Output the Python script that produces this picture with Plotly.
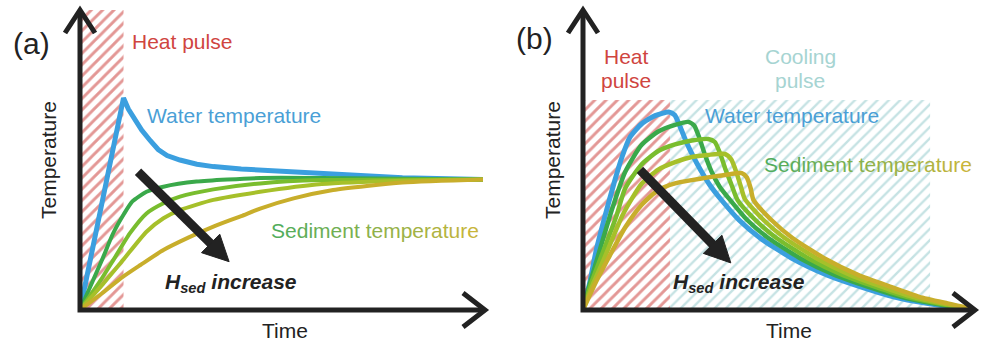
import math
import plotly.graph_objects as go

W, H = 981, 342

# ---------------- data (schematic values) ----------------
# Panel (a): time 0..10, temperature 0..10
heat_a = [0.0, 1.08]          # heat-pulse interval
heat_a_top = 10.0

water_a_t = [0, 1.08, 1.2, 1.35, 1.53, 1.74, 1.94, 2.16, 2.48, 2.9, 3.31, 4.0, 4.8, 5.66, 6.5, 8.0, 10.0]
water_a_T = [0, 7.07, 6.7, 6.35, 6.0, 5.65, 5.35, 5.15, 5.0, 4.86, 4.78, 4.7, 4.64, 4.56, 4.49, 4.41, 4.35]

sed_a1_t = [0, 0.54, 0.82, 1.09, 1.3, 1.65, 2.07, 2.89, 4.47, 6.0, 10.0]
sed_a1_T = [0, 1.65, 2.55, 3.2, 3.62, 3.94, 4.11, 4.28, 4.4, 4.4, 4.35]
sed_a2_t = [0, 0.54, 0.83, 1.24, 1.65, 2.07, 2.48, 3.31, 4.47, 6.0, 10.0]
sed_a2_T = [0, 1.05, 1.67, 2.56, 3.22, 3.56, 3.78, 4.02, 4.22, 4.33, 4.35]
sed_a3_t = [0, 0.54, 1.07, 1.65, 2.07, 2.48, 3.31, 4.47, 6.0, 8.0, 10.0]
sed_a3_T = [0, 0.82, 1.67, 2.61, 3.06, 3.33, 3.67, 3.94, 4.2, 4.31, 4.35]
sed_a4_t = [0, 0.54, 1.07, 1.5, 2.07, 2.7, 3.31, 4.0, 4.47, 5.3, 6.28, 8.0, 10.0]
sed_a4_T = [0, 0.55, 1.11, 1.5, 2.0, 2.42, 2.78, 3.13, 3.38, 3.72, 4.0, 4.25, 4.35]

arrow_a = [1.44, 4.61, 3.7, 1.61]   # tail t, tail T, tip t, tip T

# Panel (b)
heat_b = [0.0, 2.23]
cool_b = [2.23, 8.9]
pulse_b_top = 7.0

water_b_t = [0, 0.17, 0.34, 0.56, 0.8, 1.0, 1.2, 1.5, 1.85, 2.2, 2.35, 2.49, 2.65, 2.83, 3.0, 3.26,
             3.56, 4.0, 4.54, 5.39, 6.25, 7.1, 7.96, 8.81, 9.67, 10.0]
water_b_T = [0, 0.9, 2.0, 3.11, 4.25, 5.1, 5.75, 6.2, 6.48, 6.6, 6.5, 6.11, 5.6, 5.11, 4.7, 4.15,
             3.65, 3.0, 2.4, 1.7, 1.17, 0.78, 0.44, 0.22, 0.06, 0.02]

sed_b1_t = [0, 0.17, 0.34, 0.73, 1.08, 1.5, 1.93, 2.36, 2.7, 2.85, 2.98, 3.12, 3.3, 3.5, 3.77, 4.21,
            4.75, 5.6, 6.45, 7.3, 8.15, 8.97, 9.75, 10.0]
sed_b1_T = [0, 0.85, 1.6, 3.3, 4.6, 5.5, 5.95, 6.17, 6.27, 6.15, 5.75, 5.2, 4.6, 4.12, 3.67, 3.0,
            2.4, 1.7, 1.17, 0.78, 0.44, 0.22, 0.06, 0.03]
sed_b2_t = [0, 0.2, 0.4, 0.85, 1.08, 1.5, 1.93, 2.36, 2.79, 3.21, 3.38, 3.52, 3.65, 3.8, 3.96, 4.42,
            4.96, 5.81, 6.65, 7.48, 8.3, 9.1, 9.82, 10.0]
sed_b2_T = [0, 0.85, 1.55, 3.11, 4.05, 4.85, 5.3, 5.52, 5.65, 5.7, 5.6, 5.2, 4.7, 4.2, 3.67, 3.0,
            2.4, 1.7, 1.17, 0.78, 0.44, 0.22, 0.06, 0.04]
sed_b3_t = [0, 0.25, 0.49, 1.03, 1.5, 1.93, 2.36, 2.79, 3.21, 3.64, 3.8, 3.93, 4.05, 4.15, 4.63,
            5.17, 6.02, 6.85, 7.66, 8.45, 9.22, 9.88, 10.0]
sed_b3_T = [0, 0.85, 1.55, 3.2, 4.2, 4.68, 4.93, 5.1, 5.17, 5.2, 5.02, 4.6, 4.1, 3.7, 3.0,
            2.4, 1.7, 1.17, 0.78, 0.44, 0.22, 0.06, 0.05]
sed_b4_t = [0, 0.3, 0.64, 1.08, 1.5, 1.93, 2.36, 2.79, 3.21, 3.64, 4.07, 4.2, 4.3, 4.37, 4.83,
            5.37, 6.22, 7.05, 7.87, 8.62, 9.35, 9.92, 10.0]
sed_b4_T = [0, 0.85, 1.7, 2.75, 3.5, 4.0, 4.22, 4.33, 4.42, 4.5, 4.56, 4.42, 4.05, 3.67, 3.0,
            2.4, 1.7, 1.17, 0.78, 0.44, 0.22, 0.06, 0.05]

arrow_b = [1.46, 4.67, 3.79, 1.57]

# ---------------- styles ----------------
FONT = "Liberation Sans, Arial, sans-serif"
BLUE = "#3b9fdf"
SED_COLORS = ["#3aa94a", "#79bd2e", "#a6c02a", "#c8ae2b"]
RED = "#c8302c"
TEAL = "#8cc6c8"
DARK = "#222222"

XDOM_A = [80 / W, 483 / W]
XDOM_B = [583 / W, 973 / W]
YDOM = [1 - 310 / H, 1 - 10 / H]

fig = go.Figure()


def hatch_bar(interval, top, color, xa, ya, solidity, size):
    fig.add_trace(go.Bar(
        x=[(interval[0] + interval[1]) / 2], y=[top], width=[interval[1] - interval[0]],
        base=0, xaxis=xa, yaxis=ya, showlegend=False, hoverinfo="skip",
        marker=dict(color="white", line=dict(width=0),
                    pattern=dict(shape="/", fgcolor=color, bgcolor="white",
                                 size=size, solidity=solidity)),
    ))


def line(t, T, color, width, xa, ya, shape="spline"):
    fig.add_trace(go.Scatter(
        x=t, y=T, mode="lines", xaxis=xa, yaxis=ya, showlegend=False, hoverinfo="skip",
        cliponaxis=False,
        line=dict(color=color, width=width, shape=shape, smoothing=0.6),
    ))


# panel a
hatch_bar(heat_a, heat_a_top, RED, "x", "y", 0.36, 8)
line(water_a_t, water_a_T, BLUE, 5, "x", "y", shape="linear")
for (t, T), c in zip([(sed_a1_t, sed_a1_T), (sed_a2_t, sed_a2_T),
                      (sed_a3_t, sed_a3_T), (sed_a4_t, sed_a4_T)], SED_COLORS):
    line(t, T, c, 4, "x", "y")

# panel b
hatch_bar(heat_b, pulse_b_top, RED, "x2", "y2", 0.36, 8)
hatch_bar(cool_b, pulse_b_top, TEAL, "x2", "y2", 0.3, 8)
line(water_b_t, water_b_T, BLUE, 5, "x2", "y2")
for (t, T), c in zip([(sed_b1_t, sed_b1_T), (sed_b2_t, sed_b2_T),
                      (sed_b3_t, sed_b3_T), (sed_b4_t, sed_b4_T)], SED_COLORS):
    line(t, T, c, 4.5, "x2", "y2")


# ---------------- axes (arrows), in paper coordinates so they are not clipped ----------------
def to_paper(xdom, t, T):
    return (xdom[0] + (xdom[1] - xdom[0]) * t / 10.0,
            YDOM[0] + (YDOM[1] - YDOM[0]) * T / 10.0)


shapes = []
for xdom in (XDOM_A, XDOM_B):
    x0, y0 = to_paper(xdom, 0, 0)
    xt, yt = to_paper(xdom, 0, 10)
    xr, yr = to_paper(xdom, 10.05, 0)
    shapes.append(dict(type="path", xref="paper", yref="paper",
                       path="M%.5f,%.5f L%.5f,%.5f L%.5f,%.5f" % (xt, yt, x0, y0, xr, yr),
                       line=dict(color=DARK, width=5)))
    shapes.append(dict(type="path", xref="paper", yref="paper", xsizemode="pixel", ysizemode="pixel",
                       xanchor=xt, yanchor=yt, path="M-15,-23 L0,0 L15,-23",
                       line=dict(color=DARK, width=5)))
    shapes.append(dict(type="path", xref="paper", yref="paper", xsizemode="pixel", ysizemode="pixel",
                       xanchor=xr, yanchor=yr, path="M-22,17 L0,0 L-22,-17",
                       line=dict(color=DARK, width=5)))


# thick black "H_sed increase" arrows (shaft + filled head)
def thick_arrow(xdom, spec, head_len=26, half_w=13, shaft_w=9):
    tt, tT, ht, hT = spec
    xa, ya = to_paper(xdom, tt, tT)
    xb, yb = to_paper(xdom, ht, hT)
    dx, dy = (xb - xa) * W, (yb - ya) * H          # pixel vector, y up
    L = math.hypot(dx, dy)
    ux, uy = dx / L, dy / L
    bx, by = xb - ux * (head_len - 2) / W, yb - uy * (head_len - 2) / H
    shapes.append(dict(type="line", xref="paper", yref="paper", x0=xa, y0=ya, x1=bx, y1=by,
                       line=dict(color=DARK, width=shaft_w)))
    cx, cy = -ux * head_len, -uy * head_len
    px_, py_ = -uy * half_w, ux * half_w
    path = "M0,0 L%.2f,%.2f L%.2f,%.2f Z" % (cx + px_, cy + py_, cx - px_, cy - py_)
    shapes.append(dict(type="path", xref="paper", yref="paper", xsizemode="pixel",
                       ysizemode="pixel", xanchor=xb, yanchor=yb, path=path,
                       fillcolor=DARK, line=dict(color=DARK, width=1)))


thick_arrow(XDOM_A, arrow_a)
thick_arrow(XDOM_B, arrow_b)


def px(xp, yp):
    return xp / W, 1 - yp / H


def gradient(text, c0, c1):
    a = [int(c0[i:i + 2], 16) for i in (1, 3, 5)]
    b = [int(c1[i:i + 2], 16) for i in (1, 3, 5)]
    n = max(len(text) - 1, 1)
    out = []
    for i, ch in enumerate(text):
        f = i / n
        col = "#%02x%02x%02x" % tuple(round(a[k] + (b[k] - a[k]) * f) for k in range(3))
        out.append('<span style="color:%s">%s</span>' % (col, ch))
    return "".join(out)


annotations = []


def label(text, xp, yp, size=21, color=DARK, angle=0):
    x, y = px(xp, yp)
    annotations.append(dict(text=text, x=x, y=y, xref="paper", yref="paper",
                            xanchor="center", yanchor="middle", showarrow=False,
                            textangle=angle, font=dict(family=FONT, size=size, color=color)))


SED_TXT = gradient("Sediment temperature", "#52ad5c", "#c8b53a")
HSED = "<b><i>H<sub>sed</sub> increase</i></b>"

# panel a labels
label("(a)", 31, 43, size=30)
label("Heat pulse", 182, 42, color="#d0453f")
label("Water temperature", 234, 115, color="#4a9fd6")
label(SED_TXT, 375, 230)
label(HSED, 231, 283)
label("Temperature", 48, 160, angle=-90)
label("Time", 285, 330)

# panel b labels
label("(b)", 534, 38, size=30)
label("Heat", 626, 57, color="#d0453f")
label("pulse", 626, 80, color="#d0453f")
label("Cooling", 800, 57, color="#a6d4d2")
label("pulse", 800, 80, color="#a6d4d2")
label("Water temperature", 792, 115, color="#4a9fd6")
label(SED_TXT, 868, 165)
label(HSED, 739, 283)
label("Temperature", 552, 160, angle=-90)
label("Time", 789, 330)

ax_common = dict(range=[0, 10], visible=False, fixedrange=True)
fig.update_layout(
    width=W, height=H, margin=dict(l=0, r=0, t=0, b=0),
    paper_bgcolor="white", plot_bgcolor="rgba(0,0,0,0)",
    barmode="overlay", showlegend=False,
    xaxis=dict(domain=XDOM_A, anchor="y", **ax_common),
    yaxis=dict(domain=YDOM, anchor="x", **ax_common),
    xaxis2=dict(domain=XDOM_B, anchor="y2", **ax_common),
    yaxis2=dict(domain=YDOM, anchor="x2", **ax_common),
    shapes=shapes, annotations=annotations,
)

fig.write_html("out.html")
